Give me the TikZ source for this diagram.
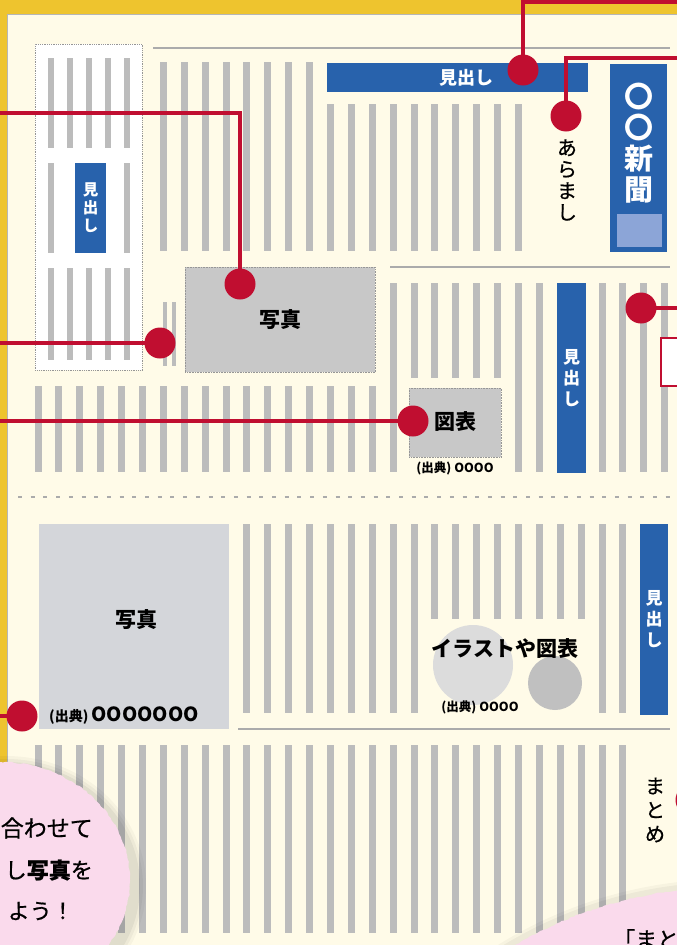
\documentclass[tikz,border=0pt]{standalone}
\usepackage{fontspec}
\setmainfont{Noto Sans CJK JP}
\newfontfamily\medjp{Noto Sans CJK JP}[FakeBold=0.7]
\usetikzlibrary{decorations.pathmorphing}
\definecolor{yel}{RGB}{238,196,46}
\definecolor{cream}{RGB}{255,251,232}
\definecolor{barc}{RGB}{188,188,188}
\definecolor{bluec}{RGB}{40,98,172}
\definecolor{lblue}{RGB}{140,165,215}
\definecolor{redc}{RGB}{192,14,48}
\definecolor{phgray}{RGB}{200,200,200}
\definecolor{phgrayb}{RGB}{212,214,218}
\definecolor{pinkc}{RGB}{250,218,236}
\definecolor{edgec}{RGB}{150,150,150}
\definecolor{circA}{RGB}{220,220,220}
\definecolor{circB}{RGB}{192,192,192}
\newcommand\colbar[3]{\fill[barc] ({38+20.89*#1-3.5},#2) rectangle ({38+20.89*#1+3.5},#3);}
\pgfmathsetseed{7}
\begin{document}
\begin{tikzpicture}[x=1pt,y=-1pt,
  dotn/.style={circle,fill=redc,minimum size=31pt,inner sep=0pt},
  conn/.style={draw=redc,line width=4pt},
  bluebox/.style={fill=bluec,inner sep=0pt,text=white},
  graybox/.style={fill=phgray,draw=edgec,densely dotted,line width=0.6pt,inner sep=0pt},
  gline/.style={draw=edgec!80,line width=1.2pt},
  lbl/.style={inner sep=0pt,text=black},
  vlbl/.style={inner sep=0pt,align=center},
  rough/.style={decorate,decoration={random steps,segment length=3pt,amplitude=0.7pt}}
]
\useasboundingbox (0,0) rectangle (677,945);
\clip (0,0) rectangle (677,945);
% paper
\fill[yel] (0,0) rectangle (677,945);
\fill[cream] (7,14) rectangle (677,945);
\draw[edgec!70,line width=0.8pt] (7,945) -- (7,14) -- (677,14);
% rules
\draw[gline] (153,48) -- (670,48);
\draw[gline] (390,267) -- (670,267);
\draw[gline] (238,729) -- (670,729);
\draw[edgec!80,line width=1.5pt,dash pattern=on 4pt off 8.7pt] (18,497) -- (672,497);

% ---------- sidebar ----------
\node[fill=white,draw=edgec,densely dotted,line width=0.8pt,minimum width=107pt,minimum height=326pt,anchor=north west,inner sep=0pt] (side) at (35,44) {};
\foreach \x in {51,70,89,108,127} {
  \fill[barc] (\x-3,58) rectangle (\x+3,148);
  \fill[barc] (\x-3,268) rectangle (\x+3,360);
}
\foreach \x in {51,127} {\fill[barc] (\x-3,163) rectangle (\x+3,253);}
\node[bluebox,minimum width=31pt,minimum height=90pt,align=center,font=\bfseries\fontsize{15.5}{18}\selectfont] (sideh) at (90.5,208) {見\\出\\し};

% ---------- top section ----------
\foreach \k in {6,...,13} {\colbar{\k}{62}{251}}
\foreach \k in {14,...,23} {\colbar{\k}{104}{251}}
\node[bluebox,minimum width=261pt,minimum height=29pt,anchor=north west] (head) at (327,63) {};
\node[lbl,text=white,font=\bfseries\fontsize{18}{18}\selectfont] (headt) at (466,78) {見出し};
\node[bluebox,minimum width=57pt,minimum height=188pt,anchor=north west] (title) at (610,64) {};
\node[vlbl,text=white,font=\bfseries\fontsize{29}{31}\selectfont] (titlet) at (639,143) {〇\\〇\\新\\聞};
\node[fill=lblue,minimum width=45pt,minimum height=33pt,inner sep=0pt,anchor=north west] (titlesq) at (617,214) {};
\node[vlbl,font=\medjp\fontsize{20}{21.5}\selectfont] (ara) at (567,180) {あ\\ら\\ま\\し};

% ---------- middle section ----------
\node[graybox,minimum width=190pt,minimum height=105pt,anchor=north west,font=\bfseries\fontsize{21}{21}\selectfont] (ph1) at (185,267) {写真};
\fill[barc] (163,302) rectangle (167,366);
\fill[barc] (172,302) rectangle (176,366);
\foreach \k in {0,...,16} {\colbar{\k}{386}{472}}
\colbar{17}{283}{472}
\foreach \k in {18,...,22} {\colbar{\k}{283}{378}}
\foreach \k in {23,24,27,28,29,30} {\colbar{\k}{283}{472}}
\node[bluebox,minimum width=29pt,minimum height=190pt,align=center,font=\bfseries\fontsize{17}{21}\selectfont] (midh) at (571.5,378) {見\\出\\し};
\node[graybox,minimum width=92pt,minimum height=69pt,anchor=north west] (fig) at (409,388) {};
\node[lbl,font=\bfseries\fontsize{21}{21}\selectfont] (figt) at (455,421) {図表};
\node[lbl,font=\bfseries\fontsize{12.5}{12.5}\selectfont] (cap1) at (455,468) {(出典) OOOO};
\node[fill=white,draw=redc,line width=2pt,minimum width=40pt,minimum height=48pt,anchor=north west,inner sep=0pt] (callout) at (660,337) {};

% ---------- lower section ----------
\node[fill=phgrayb,minimum width=190pt,minimum height=205pt,anchor=north west,inner sep=0pt] (ph2) at (39,524) {};
\node[lbl,font=\bfseries\fontsize{21}{21}\selectfont] (ph2t) at (136,620) {写真};
\node[lbl,anchor=west,font=\bfseries\fontsize{14}{14}\selectfont] (cap2) at (49,716) {(出典) {\fontsize{19.5}{19.5}\selectfont OOOOOOO}};
\foreach \k in {10,...,18,27,28} {\colbar{\k}{524}{713}}
\foreach \k in {19,...,26} {\colbar{\k}{524}{619}}
\node[circle,fill=circA,minimum size=80pt,inner sep=0pt] (circ1) at (473,665) {};
\node[circle,fill=circB,minimum size=54pt,inner sep=0pt] (circ2) at (555,683) {};
\node[lbl,font=\bfseries\fontsize{21}{21}\selectfont] (illt) at (505,648) {イラストや図表};
\node[lbl,font=\bfseries\fontsize{12.5}{12.5}\selectfont] (cap3) at (480,707) {(出典) OOOO};
\node[bluebox,minimum width=28pt,minimum height=191pt,align=center,font=\bfseries\fontsize{17}{21}\selectfont] (lowh) at (654,619.5) {見\\出\\し};

% ---------- bottom section ----------
\foreach \k in {0,...,28} {\colbar{\k}{745}{933}}
\node[vlbl,font=\medjp\fontsize{20}{24}\selectfont] (matome) at (655,810) {ま\\と\\め};

% ---------- bubbles ----------
\foreach \r/\o in {140/0.03,137/0.04,134/0.05} {
  \fill[black,opacity=\o] (6,886) ellipse [x radius=\r pt,y radius={\r pt - 10pt}];
}
\fill[pinkc,rough] (0,880) ellipse [x radius=130pt,y radius=118pt];
\node[lbl,anchor=east,font=\medjp\fontsize{23}{23}\selectfont] (b1) at (93,828) {合わせて};
\node[lbl,anchor=east,font=\medjp\fontsize{22}{22}\selectfont] (b2) at (93,870) {し{\bfseries 写真}を};
\node[lbl,anchor=east,font=\medjp\fontsize{22}{22}\selectfont] (b3) at (74,911) {よう！};
\foreach \r/\o in {441/0.03,438/0.04} {
  \fill[black,opacity=\o] (730,1320) circle [radius=\r pt];
}
\fill[pinkc,rough] (732,1322) circle [radius=435pt];
\node[lbl,anchor=north west,font=\medjp\fontsize{22}{22}\selectfont] (b4) at (613,929) {「まとめ};

% ---------- dots and connectors ----------
\node[dotn] (d1) at (523,70) {};
\coordinate (e1) at (690,1.5);
\draw[conn] (d1.center) |- (e1);
\node[dotn] (d2) at (566,116) {};
\coordinate (e2) at (690,58);
\draw[conn] (d2.center) |- (e2);
\node[dotn] (d3) at (240,284) {};
\coordinate (e3) at (-5,113);
\draw[conn] (d3.center) |- (e3);
\node[dotn] (d4) at (160,343) {};
\coordinate (e4) at (-5,343);
\draw[conn] (d4.center) -- (e4);
\node[dotn] (d5) at (413,421) {};
\coordinate (e5) at (-5,421);
\draw[conn] (d5.center) -- (e5);
\node[dotn] (d6) at (641,308) {};
\coordinate (e6) at (690,308);
\draw[conn] (d6.center) -- (e6);
\node[dotn] (d7) at (22,716) {};
\coordinate (e7) at (-5,716);
\draw[conn] (d7.center) -- (e7);
\node[dotn] (d8) at (691,800) {};
\end{tikzpicture}
\end{document}
